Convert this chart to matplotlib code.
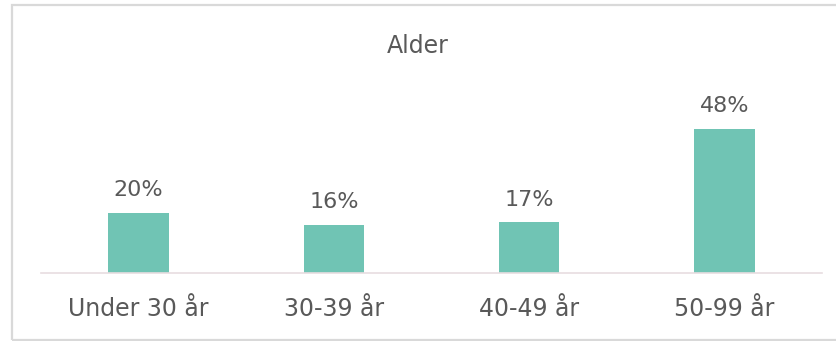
import numpy as np
import matplotlib.pyplot as plt
from matplotlib.patches import Rectangle

# データ
categories = ['Under 30 år', '30-39 år', '40-49 år', '50-99 år']
values = [20, 16, 17, 48]
title = 'Alder'

bar_color = '#70C4B4'
text_color = '#595959'

plt.rcParams['font.family'] = ['DejaVu Sans']

fig = plt.figure(figsize=(8.36, 3.41), dpi=100)

# 外枠
fig.patches.append(Rectangle((12 / 836, 1 / 341), 1.0, 335 / 341, transform=fig.transFigure,
                             fill=False, edgecolor='#d9d9d9', linewidth=1.6))

ax = fig.add_axes([41 / 836, 1 - 273 / 341, 781 / 836, 180 / 341])
x = np.arange(len(categories))
bars = ax.bar(x, values, width=0.31, color=bar_color)

ax.set_xlim(-0.5, len(categories) - 0.5)
ax.set_ylim(0, 60)

for rect, v in zip(bars, values):
    ax.annotate(f'{v}%', (rect.get_x() + rect.get_width() / 2, rect.get_height()),
                xytext=(0, 9), textcoords='offset points', ha='center', va='bottom',
                fontsize=16, color=text_color)

ax.set_xticks(x)
ax.set_xticklabels(categories, fontsize=17, color=text_color)
ax.tick_params(axis='x', length=0, pad=17)
ax.set_yticks([])

for s in ['top', 'right', 'left']:
    ax.spines[s].set_visible(False)
ax.spines['bottom'].set_color('#e8dde0')
ax.spines['bottom'].set_linewidth(1.2)

fig.text(418 / 836, 1 - 46 / 341, title, ha='center', va='center', fontsize=17, color=text_color)

fig.savefig('out.png', dpi=100)
